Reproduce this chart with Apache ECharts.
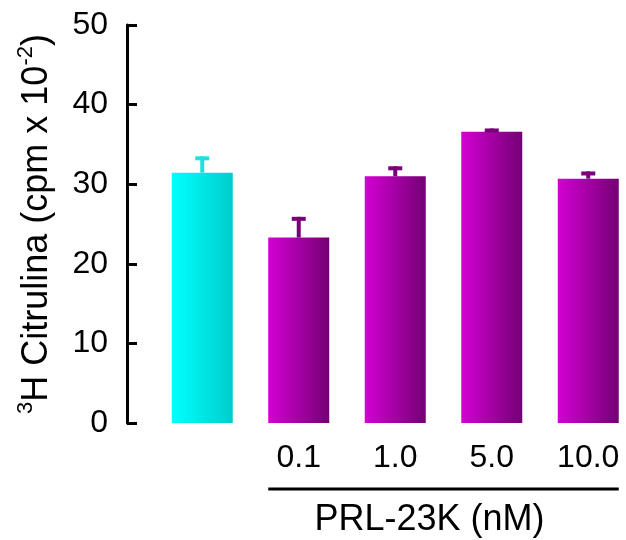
<!DOCTYPE html>
<html>
<head>
<meta charset="utf-8">
<script src="https://cdn.jsdelivr.net/npm/echarts@6/dist/echarts.min.js"></script>
<style>
html,body{margin:0;padding:0;background:#fff;}
#chart{width:626px;height:540px;}
</style>
</head>
<body>
<div id="chart"></div>
<script>
// ---- data ----
var categories = ['', '0.1', '1.0', '5.0', '10.0'];
var means = [31.45, 23.3, 31.0, 36.6, 30.7];
var errors = [2.05, 2.6, 1.25, 0.4, 0.9];
var yTicks = [0, 10, 20, 30, 40, 50];
var groupLabel = 'PRL-23K (nM)';

// ---- styles ----
var FONT = '"Liberation Sans", Arial, sans-serif';
function grad(c0, c1) {
  return new echarts.graphic.LinearGradient(0, 0, 1, 0, [
    {offset: 0, color: c0}, {offset: 1, color: c1}
  ]);
}
var barFill = [
  grad('#00ffff', '#00cdcd'),
  grad('#d300d3', '#740074'),
  grad('#d300d3', '#740074'),
  grad('#d300d3', '#740074'),
  grad('#d300d3', '#740074')
];
var errColor = ['#22dede', '#7a007a', '#7a007a', '#7a007a', '#7a007a'];

var chart = echarts.init(document.getElementById('chart'), null, {renderer: 'canvas'});

var barData = means.map(function (v, i) {
  return {value: v, itemStyle: {color: barFill[i]}};
});
var errData = means.map(function (v, i) { return [i, v, errors[i]]; });

var BAR_W = 61;

chart.setOption({
  animation: false,
  backgroundColor: '#fff',
  grid: {left: 154, top: 25, width: 482.5, height: 398, outerBoundsMode: 'none', containLabel: false},
  xAxis: {
    type: 'category',
    data: categories,
    axisLine: {show: false},
    axisTick: {show: false},
    axisLabel: {fontFamily: FONT, fontSize: 32, color: '#000', margin: 19, interval: 0, hideOverlap: false}
  },
  yAxis: {
    type: 'value',
    min: yTicks[0],
    max: yTicks[yTicks.length - 1],
    interval: 10,
    offset: 27,
    splitLine: {show: false},
    axisLine: {show: true, lineStyle: {color: '#000', width: 3}},
    axisTick: {show: true, inside: true, length: 10, lineStyle: {color: '#000', width: 3}},
    axisLabel: {fontFamily: FONT, fontSize: 32, color: '#000', margin: 19},
    name: '{sup|3}{n|H Citrulina (cpm x 10}{sup|-2}{n|)}',
    nameLocation: 'middle',
    nameRotate: 90,
    nameGap: 72,
    nameTextStyle: {
      fontFamily: FONT, fontSize: 36, color: '#000',
      rich: {
        n: {fontFamily: FONT, fontSize: 36, color: '#000', lineHeight: 42, verticalAlign: 'bottom'},
        sup: {fontFamily: FONT, fontSize: 22, color: '#000', lineHeight: 42, verticalAlign: 'top', padding: [2, 0, 0, 0]}
      }
    }
  },
  series: [
    {
      type: 'bar',
      data: barData,
      barWidth: BAR_W,
      z: 2
    },
    {
      type: 'custom',
      data: errData,
      z: 3,
      renderItem: function (params, api) {
        var i = api.value(0);
        var top = api.coord([i, api.value(1) + api.value(2)]);
        var base = api.coord([i, api.value(1)]);
        var c = errColor[i];
        return {
          type: 'group',
          children: [
            {type: 'rect', shape: {x: top[0] - 2, y: top[1], width: 4, height: base[1] - top[1]}, style: {fill: c}},
            {type: 'rect', shape: {x: top[0] - 7, y: top[1], width: 14, height: 4}, style: {fill: c}}
          ]
        };
      }
    }
  ]
});

// group bracket line under the PRL-23K labels, and group title
var xa = chart.convertToPixel({xAxisIndex: 0}, categories[1]) - BAR_W / 2;
var xb = chart.convertToPixel({xAxisIndex: 0}, categories[4]) + BAR_W / 2;
chart.setOption({
  graphic: [
    {type: 'line', shape: {x1: xa, y1: 489, x2: xb, y2: 489}, style: {stroke: '#000', lineWidth: 3}},
    {type: 'text', x: (xa + xb) / 2 - 14, y: 520, style: {text: groupLabel, font: '36px ' + FONT, fill: '#000', align: 'center', verticalAlign: 'middle'}}
  ]
});
</script>
</body>
</html>
